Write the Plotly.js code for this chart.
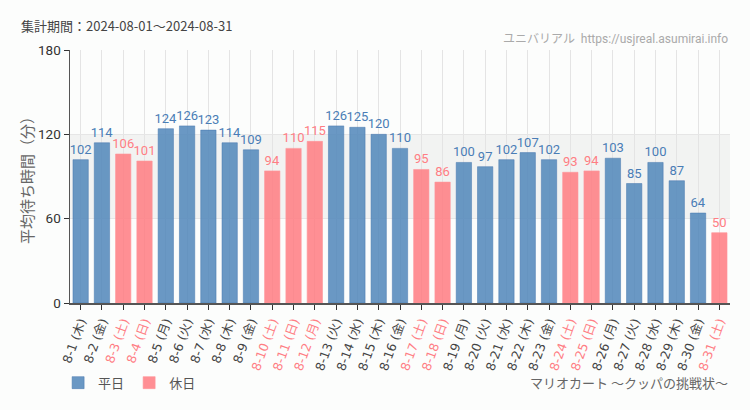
<!DOCTYPE html>
<html>
<head>
<meta charset="utf-8">
<script src="https://cdn.plot.ly/plotly-3.0.1.min.js"></script>
<style>
html,body{margin:0;padding:0;background:#fcfdfc;}
#chart{width:750px;height:410px;}
</style>
</head>
<body>
<div id="chart"></div>
<script>
const dates = ["8-1","8-2","8-3","8-4","8-5","8-6","8-7","8-8","8-9","8-10","8-11","8-12","8-13","8-14","8-15","8-16","8-17","8-18","8-19","8-20","8-21","8-22","8-23","8-24","8-25","8-26","8-27","8-28","8-29","8-30","8-31"];
const weekdays = ["木","金","土","日","月","火","水","木","金","土","日","月","火","水","木","金","土","日","月","火","水","木","金","土","日","月","火","水","木","金","土"];
const waitTimes = [102,114,106,101,124,126,123,114,109,94,110,115,126,125,120,110,95,86,100,97,102,107,102,93,94,103,85,100,87,64,50];
const holidays = ["8-3","8-4","8-10","8-11","8-12","8-17","8-18","8-24","8-25","8-31"];
const yTicks = [0,60,120,180];

const BLUE = "rgba(80,134,186,0.85)";
const PINK = "rgba(255,123,129,0.85)";
const BLUE_TXT = "#4a7db6";
const PINK_TXT = "#ff7e84";
const labelFont = "'Roboto','Liberation Sans',sans-serif";

const isHol = dates.map(d => holidays.includes(d));
const cats = dates;
const tickText = dates.map((d,i) => {
  const s = d + " (" + weekdays[i] + ")";
  return isHol[i] ? '<span style="color:' + PINK_TXT + '">' + s + '</span>' : s;
});

const wkY = waitTimes.map((v,i) => isHol[i] ? null : v);
const hoY = waitTimes.map((v,i) => isHol[i] ? v : null);

const traces = [
  {type:"bar", name:"平日", x:cats, y:wkY,
   marker:{color:BLUE, line:{color:"rgba(70,120,175,0.5)", width:1}},
   text:wkY.map(v => v===null ? "" : String(v)), textposition:"outside", cliponaxis:false,
   constraintext:"none",
   textfont:{family:labelFont, size:13, color:BLUE_TXT}, hoverinfo:"x+y"},
  {type:"bar", name:"休日", x:cats, y:hoY,
   marker:{color:PINK, line:{color:"rgba(255,150,155,0.6)", width:1}},
   text:hoY.map(v => v===null ? "" : String(v)), textposition:"outside", cliponaxis:false,
   constraintext:"none",
   textfont:{family:labelFont, size:13, color:PINK_TXT}, hoverinfo:"x+y"}
];

const layout = {
  width:750, height:410,
  margin:{l:70, r:20, t:50, b:105},
  paper_bgcolor:"#fcfdfc", plot_bgcolor:"rgba(0,0,0,0)",
  barmode:"overlay", bargap:0.28,
  font:{family:"'Noto Sans CJK JP','DejaVu Sans',sans-serif", color:"#333"},
  showlegend:true,
  legend:{orientation:"h", x:-0.018, xanchor:"left", y:-0.315, yanchor:"middle",
    font:{size:13, color:"#555"}, bgcolor:"rgba(0,0,0,0)", itemwidth:30, traceorder:"normal"},
  xaxis:{type:"category", tickmode:"array", tickvals:cats, ticktext:tickText,
    tickangle:-70, tickfont:{size:12.5, color:"#444", family:"'DejaVu Sans','Noto Sans CJK JP',sans-serif"},
    showgrid:true, gridcolor:"#e4e4e4", gridwidth:1,
    ticks:"outside", ticklen:5, tickcolor:"#333",
    showline:true, linecolor:"#555", linewidth:1.5, zeroline:false,
    range:[-0.5, 30.5]},
  yaxis:{range:[0,180], tickmode:"array", tickvals:yTicks, ticktext:yTicks.map(String),
    tickfont:{size:13.5, color:"#333", family:"'Roboto',sans-serif"},
    ticks:"outside", ticklen:5, tickcolor:"#333",
    showline:true, linecolor:"#555", linewidth:1.5,
    showgrid:true, gridcolor:"#e6e6e6", zeroline:false},
  shapes:[{type:"rect", xref:"paper", yref:"y", x0:0, x1:1, y0:60, y1:120,
    fillcolor:"#f2f3f2", line:{width:0}, layer:"below"}],
  annotations:[
    {xref:"paper", yref:"paper", x:-0.078, y:1.095, xanchor:"left", yanchor:"middle",
     text:"集計期間：2024-08-01～2024-08-31", showarrow:false,
     font:{size:13, color:"#444"}},
    {xref:"paper", yref:"paper", x:1, y:1.045, xanchor:"right", yanchor:"middle",
     text:"ユニバリアル  https://usjreal.asumirai.info", showarrow:false,
     font:{size:12, color:"#aaa", family:"'Roboto','Noto Sans CJK JP',sans-serif"}},
    {xref:"paper", yref:"paper", x:1, y:-0.315, xanchor:"right", yanchor:"middle",
     text:"マリオカート ～クッパの挑戦状～", showarrow:false,
     font:{size:13, color:"#666"}},
    {xref:"paper", yref:"paper", x:-0.066, y:0.5, xanchor:"center", yanchor:"middle",
     textangle:-90, text:"平均待ち時間（分）", showarrow:false,
     font:{size:15, color:"#666"}}
  ]
};

Plotly.newPlot("chart", traces, layout, {displayModeBar:false, staticPlot:true});
</script>
</body>
</html>
